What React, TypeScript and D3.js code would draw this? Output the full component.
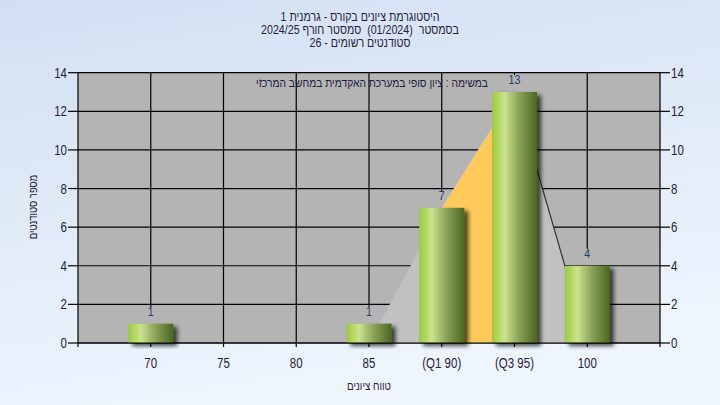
import React, { useLayoutEffect, useRef, useState } from "react";
import * as d3 from "d3";

const titleLine1 = "היסטוגרמת ציונים בקורס - גרמנית 1";
// line 2, pieces in visual left-to-right order (logical: "בסמסטר  (01/2024)  סמסטר חורף 2024/25")
const titleLine2Pieces = ["2024/25", "סמסטר חורף", "(01/2024)", "בסמסטר"];
const titleLine2Gaps = [1, 2, 2];
const titleLine3 = "סטודנטים רשומים - 26";
const note = "במשימה : ציון סופי במערכת האקדמית במחשב המרכזי";
const xTitle = "טווח ציונים";
const yTitle = "מספר סטודנטים";

const grades = [70, 75, 80, 85, 90, 95, 100];
const gradeLabels = ["70", "75", "80", "85", "(Q1 90)", "(Q3 95)", "100"];
const counts = [1, 0, 0, 1, 7, 13, 4];
const yTicks = [0, 2, 4, 6, 8, 10, 12, 14];

// distribution outline (grade, value)
const shapeGrades = [85, 90, 95, 100];
const shapeValues = [0, 7, 13, 0];
const q1Grade = 90;
const q3Grade = 95;

const W = 720;
const H = 405;
const FONT = "'Liberation Sans', Arial, sans-serif";
const TXT = "#1e2040";
const K = 0.82; // horizontal condensation to mimic the narrow UI font

function isRtl(s: string) {
  return /[\u0590-\u05FF]/.test(s);
}

function Txt(props: {
  x: number;
  y: number;
  size: number;
  anchor?: "start" | "middle" | "end";
  rotate?: number;
  fill?: string;
  k?: number;
  children: string;
}) {
  const { x, y, size, anchor = "middle", rotate = 0, fill = TXT, k = K, children } = props;
  const rtl = isRtl(children);
  // for rtl text, flip start/end so that the anchor means the same visual side
  let a: string = anchor;
  if (rtl && anchor === "start") a = "end";
  else if (rtl && anchor === "end") a = "start";
  return (
    <text
      transform={`translate(${x},${y}) rotate(${rotate}) scale(${k},1)`}
      fontSize={size}
      fill={fill}
      textAnchor={a}
      direction={rtl ? "rtl" : "ltr"}
    >
      {children}
    </text>
  );
}

function PiecesLine({ cx, y, size }: { cx: number; y: number; size: number }) {
  const refs = useRef<(SVGTextElement | null)[]>([]);
  const [widths, setWidths] = useState<number[]>(titleLine2Pieces.map((p) => p.length * size * 0.5));
  useLayoutEffect(() => {
    const w = refs.current.map((el, i) => (el ? el.getComputedTextLength() : widths[i]));
    if (w.some((v, i) => Math.abs(v - widths[i]) > 0.1)) setWidths(w);
  }, []);
  const space = size * 0.28;
  const total =
    widths.reduce((s, v) => s + v, 0) + titleLine2Gaps.reduce((s, g) => s + g * space, 0);
  let cur = -total / 2;
  const xs: number[] = [];
  widths.forEach((w, i) => {
    xs.push(cur);
    cur += w + (i < titleLine2Gaps.length ? titleLine2Gaps[i] * space : 0);
  });
  return (
    <g transform={`translate(${cx},${y}) scale(${K},1)`}>
      {titleLine2Pieces.map((p, i) => {
        const rtl = isRtl(p);
        return (
          <text
            key={i}
            ref={(el) => {
              refs.current[i] = el;
            }}
            x={rtl ? xs[i] + widths[i] : xs[i]}
            y={0}
            fontSize={size}
            fill={TXT}
            direction={rtl ? "rtl" : "ltr"}
            textAnchor="start"
          >
            {p}
          </text>
        );
      })}
    </g>
  );
}

export default function App() {
  const x = d3.scaleLinear().domain([65, 105]).range([78, 660]);
  const y = d3.scaleLinear().domain([0, 14]).range([343, 72.7]);
  const step = x(75) - x(70);
  const bw = step * 0.62;
  const [x0, x1] = x.range();
  const [yb, yt] = y.range();

  const shapePts: [number, number][] = shapeGrades.map((g, i) => [x(g), y(shapeValues[i])]);
  const shapePath = d3.line()(shapePts.concat([[x(shapeGrades[0]), y(0)]]))! + "Z";
  const rightEdge = d3.line()(shapePts.slice(2))!;

  const qv1 = shapeValues[shapeGrades.indexOf(q1Grade)];
  const qv3 = shapeValues[shapeGrades.indexOf(q3Grade)];
  const orangePath =
    d3.line()([
      [x(q1Grade), y(0)],
      [x(q1Grade), y(qv1)],
      [x(q3Grade), y(qv3)],
      [x(q3Grade), y(0)],
    ])! + "Z";

  return (
    <svg
      width={W}
      height={H}
      style={{ position: "absolute", left: 0, top: 0 }}
      fontFamily={FONT}
    >
      <defs>
        <linearGradient id="bg" x1="0" y1="0" x2="0.3" y2="1">
          <stop offset="0" stopColor="#d3dff1" />
          <stop offset="1" stopColor="#eef5fd" />
        </linearGradient>
        <linearGradient id="bar" x1="0" y1="0" x2="1" y2="0">
          <stop offset="0" stopColor="#9cca3a" />
          <stop offset="0.28" stopColor="#cbe38f" />
          <stop offset="0.6" stopColor="#8ba25a" />
          <stop offset="1" stopColor="#4a6621" />
        </linearGradient>
        <filter id="shadow" x="-20%" y="-20%" width="150%" height="150%">
          <feGaussianBlur in="SourceAlpha" stdDeviation="2" />
          <feOffset dx="4" dy="3" result="b" />
          <feComponentTransfer>
            <feFuncA type="linear" slope="0.7" />
          </feComponentTransfer>
          <feMerge>
            <feMergeNode />
            <feMergeNode in="SourceGraphic" />
          </feMerge>
        </filter>
        <clipPath id="plotclip">
          <rect x={x0} y={yt} width={x1 - x0} height={yb - yt} />
        </clipPath>
      </defs>
      <rect width={W} height={H} fill="url(#bg)" />

      {/* plot background */}
      <rect x={x0} y={yt} width={x1 - x0} height={yb - yt} fill="#b4b4b4" />

      {/* horizontal grid */}
      {yTicks.map((t) => (
        <line key={"h" + t} x1={x0} x2={x1} y1={y(t)} y2={y(t)} stroke="#000" strokeWidth={1.2} />
      ))}

      {/* vertical grid */}
      {grades.map((g, i) => (
        <line
          key={"v" + g}
          x1={x(g)}
          x2={x(g)}
          y1={yt}
          y2={counts[i] > 0 ? y(counts[i]) - 17 : yb}
          stroke="#000"
          strokeWidth={1.2}
        />
      ))}

      <g clipPath="url(#plotclip)">
        <path d={shapePath} fill="#c1c1c1" />
        <path d={orangePath} fill="#ffca5a" />
        <path d={rightEdge} fill="none" stroke="#333" strokeWidth={1.2} />
      </g>

      <Txt x={488} y={87} size={12.5} anchor="end">
        {note}
      </Txt>

      {/* bars */}
      {grades.map((g, i) =>
        counts[i] > 0 ? (
          <rect
            key={"b" + g}
            x={x(g) - bw / 2}
            y={y(counts[i])}
            width={bw}
            height={yb - y(counts[i])}
            fill="url(#bar)"
            filter="url(#shadow)"
          />
        ) : null
      )}

      {/* value labels */}
      {grades.map((g, i) =>
        counts[i] > 0 ? (
          <Txt key={"l" + g} x={x(g)} y={y(counts[i]) - 8} size={13} fill="#23406a">
            {String(counts[i])}
          </Txt>
        ) : null
      )}

      {/* axes */}
      <line x1={x0} x2={x0} y1={yt} y2={yb + 4} stroke="#000" strokeWidth={1.2} />
      <line x1={x1} x2={x1} y1={yt} y2={yb + 4} stroke="#000" strokeWidth={1.2} />
      <line x1={x0} x2={x1} y1={yb} y2={yb} stroke="#000" strokeWidth={1.2} />
      {yTicks.map((t) => (
        <g key={"yt" + t}>
          <line x1={x0 - 10} x2={x0} y1={y(t)} y2={y(t)} stroke="#000" strokeWidth={1.2} />
          <line x1={x1} x2={x1 + 10} y1={y(t)} y2={y(t)} stroke="#000" strokeWidth={1.2} />
          <Txt x={x0 - 11} y={y(t) + 5} size={14} anchor="end">
            {String(t)}
          </Txt>
          <Txt x={x1 + 11} y={y(t) + 5} size={14} anchor="start">
            {String(t)}
          </Txt>
        </g>
      ))}
      {grades.map((g, i) => (
        <g key={"xt" + g}>
          <line x1={x(g)} x2={x(g)} y1={yb} y2={yb + 4} stroke="#000" strokeWidth={1.2} />
          <Txt x={x(g)} y={368} size={14}>
            {gradeLabels[i]}
          </Txt>
        </g>
      ))}

      <Txt x={369} y={390} size={12}>
        {xTitle}
      </Txt>
      <Txt x={37} y={207} size={11.5} rotate={-90}>
        {yTitle}
      </Txt>

      <Txt x={360} y={21} size={13}>
        {titleLine1}
      </Txt>
      <PiecesLine cx={360} y={34} size={13} />
      <Txt x={360} y={47} size={13}>
        {titleLine3}
      </Txt>
    </svg>
  );
}
